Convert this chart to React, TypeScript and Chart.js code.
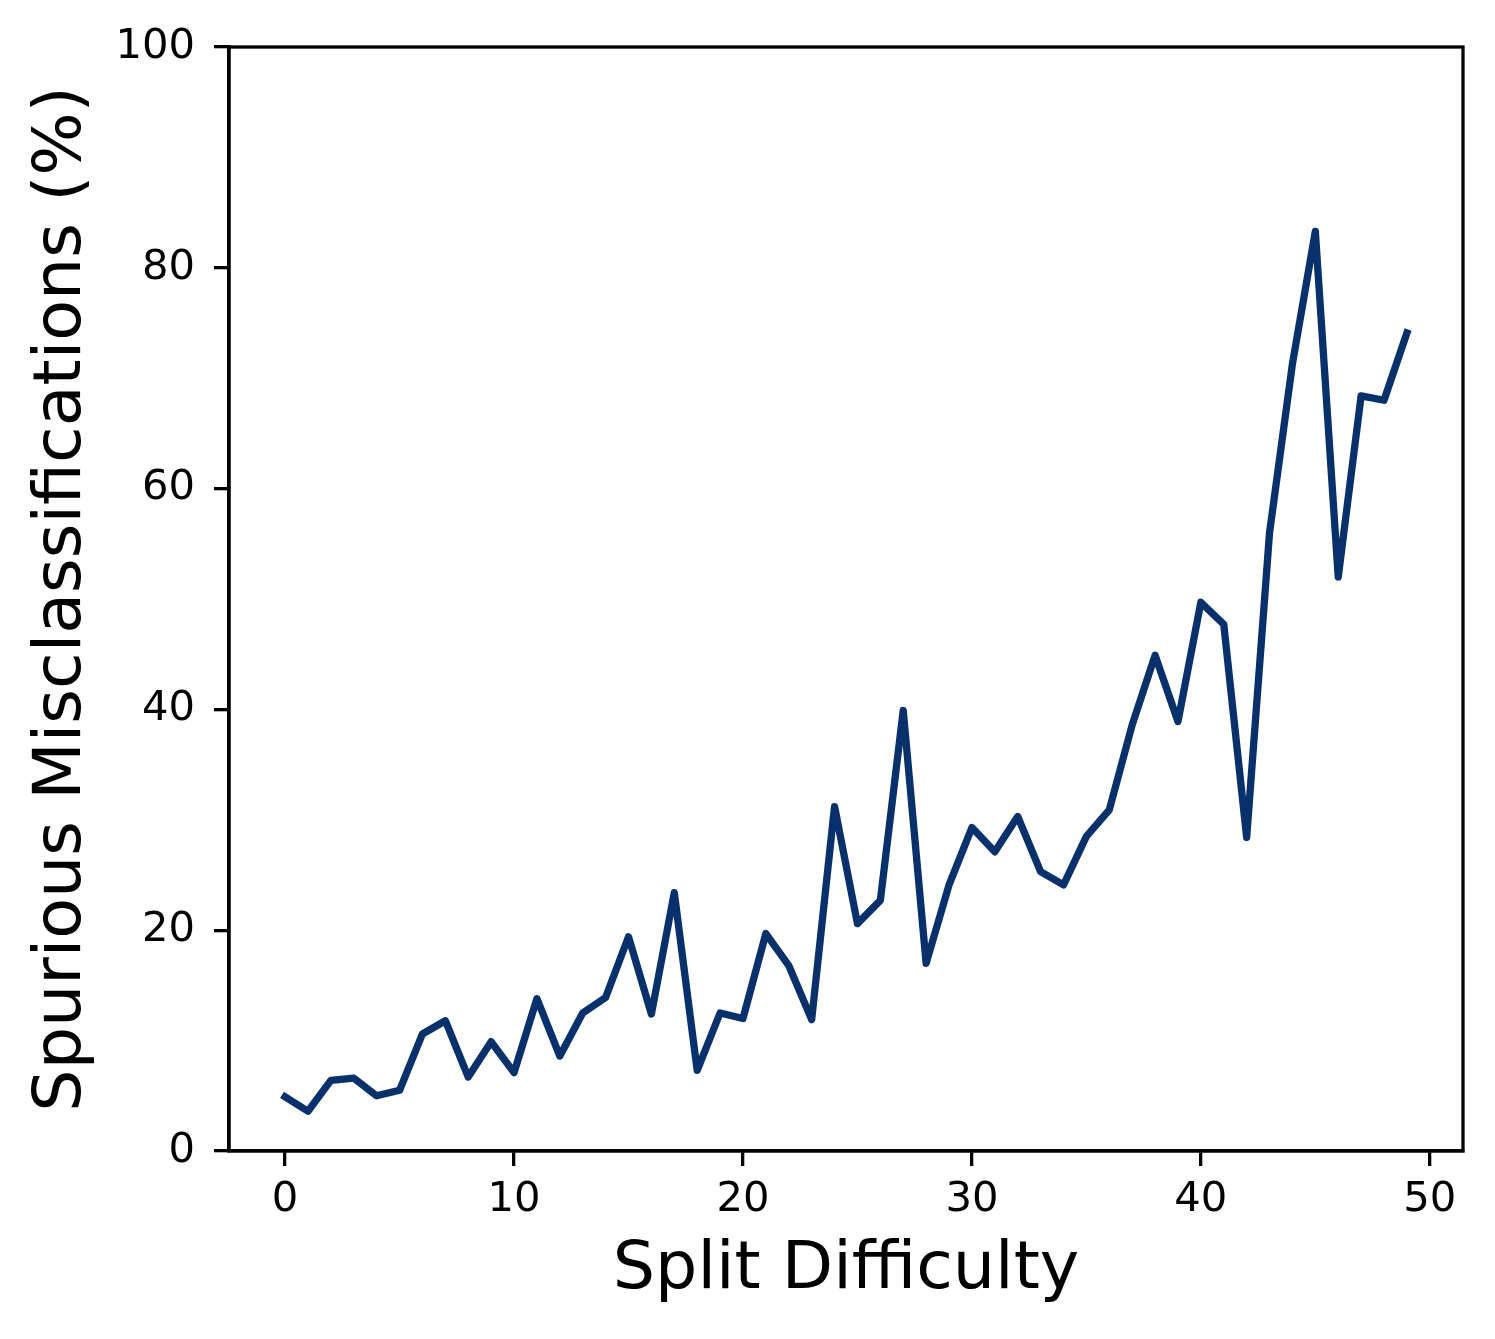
import React, { useEffect, useRef } from "react";
import { Chart, registerables } from "chart.js";

Chart.register(...registerables);

const difficulty = [
  0, 1, 2, 3, 4, 5, 6, 7, 8, 9, 10, 11, 12, 13, 14, 15, 16, 17, 18, 19, 20, 21, 22, 23, 24,
  25, 26, 27, 28, 29, 30, 31, 32, 33, 34, 35, 36, 37, 38, 39, 40, 41, 42, 43, 44, 45, 46, 47, 48, 49,
];
const spurious = [
  4.9, 3.6, 6.4, 6.6, 5.0, 5.5, 10.6, 11.8, 6.7, 9.9, 7.1, 13.8, 8.6, 12.5, 13.9, 19.4, 12.4,
  23.4, 7.3, 12.5, 12.0, 19.7, 16.8, 11.9, 31.2, 20.6, 22.7, 39.9, 17.0, 24.1, 29.3, 27.1, 30.3,
  25.3, 24.1, 28.5, 30.9, 38.6, 44.9, 38.9, 49.7, 47.7, 28.4, 56.0, 71.3, 83.3, 52.0, 68.4, 68.0,
  74.1,
];
const xTicks = [0, 10, 20, 30, 40, 50];
const yTicks = [0, 20, 40, 60, 80, 100];

const W = 1495;
const H = 1339;

export default function App() {
  const ref = useRef<HTMLCanvasElement | null>(null);

  useEffect(() => {
    if (!ref.current) return;
    Chart.defaults.font.family = "'DejaVu Sans', sans-serif";
    Chart.defaults.color = "#000";

    const framePlugin = {
      id: "frame",
      afterDatasetsDraw(chart: any) {
        const { ctx, chartArea } = chart;
        ctx.save();
        ctx.strokeStyle = "#000";
        ctx.lineWidth = 3.3;
        ctx.strokeRect(
          chartArea.left,
          chartArea.top,
          chartArea.right - chartArea.left,
          chartArea.bottom - chartArea.top
        );
        ctx.restore();
      },
    };

    const chart = new Chart(ref.current, {
      type: "line",
      data: {
        datasets: [
          {
            data: difficulty.map((d, i) => ({ x: d, y: spurious[i] })),
            borderColor: "#08306b",
            borderWidth: 7.3,
            pointRadius: 0,
            borderCapStyle: "square",
            borderJoinStyle: "round",
            tension: 0,
            fill: false,
          },
        ],
      },
      options: {
        animation: false,
        responsive: false,
        maintainAspectRatio: false,
        devicePixelRatio: 1,
        layout: { padding: { left: 0, top: 47, right: 32, bottom: 0 } },
        plugins: {
          legend: { display: false },
          tooltip: { enabled: false },
        },
        scales: {
          x: {
            type: "linear",
            min: -2.45,
            max: 51.45,
            afterBuildTicks: (scale: any) => {
              scale.ticks = xTicks.map((v) => ({ value: v }));
            },
            afterFit: (scale: any) => {
              scale.height = 188;
            },
            grid: {
              display: true,
              drawOnChartArea: false,
              drawTicks: true,
              tickLength: 15,
              color: "#000",
              lineWidth: 3.3,
            },
            border: { display: true, color: "#000", width: 3.3 },
            ticks: {
              font: { size: 41.7 },
              color: "#000",
              padding: 9,
              maxRotation: 0,
              autoSkip: false,
            },
            title: {
              display: true,
              text: "Split Difficulty",
              font: { size: 66.7, lineHeight: 1.2 },
              color: "#000",
              padding: { top: 0, bottom: 28 },
            },
          },
          y: {
            type: "linear",
            min: 0,
            max: 100,
            afterBuildTicks: (scale: any) => {
              scale.ticks = yTicks.map((v) => ({ value: v }));
            },
            afterFit: (scale: any) => {
              scale.width = 229;
            },
            grid: {
              display: true,
              drawOnChartArea: false,
              drawTicks: true,
              tickLength: 15,
              color: "#000",
              lineWidth: 3.3,
            },
            border: { display: true, color: "#000", width: 3.3 },
            ticks: {
              font: { size: 41.7 },
              color: "#000",
              padding: 19,
              autoSkip: false,
            },
            title: {
              display: true,
              text: "Spurious Misclassifications (%)",
              font: { size: 66.7, lineHeight: 1.2 },
              color: "#000",
              padding: { top: 23, bottom: 0 },
            },
          },
        },
      },
      plugins: [framePlugin],
    });

    return () => chart.destroy();
  }, []);

  return (
    <div style={{ position: "absolute", left: 0, top: 0, width: W, height: H, background: "#fff" }}>
      <canvas ref={ref} width={W} height={H} style={{ width: W, height: H, display: "block" }} />
    </div>
  );
}
